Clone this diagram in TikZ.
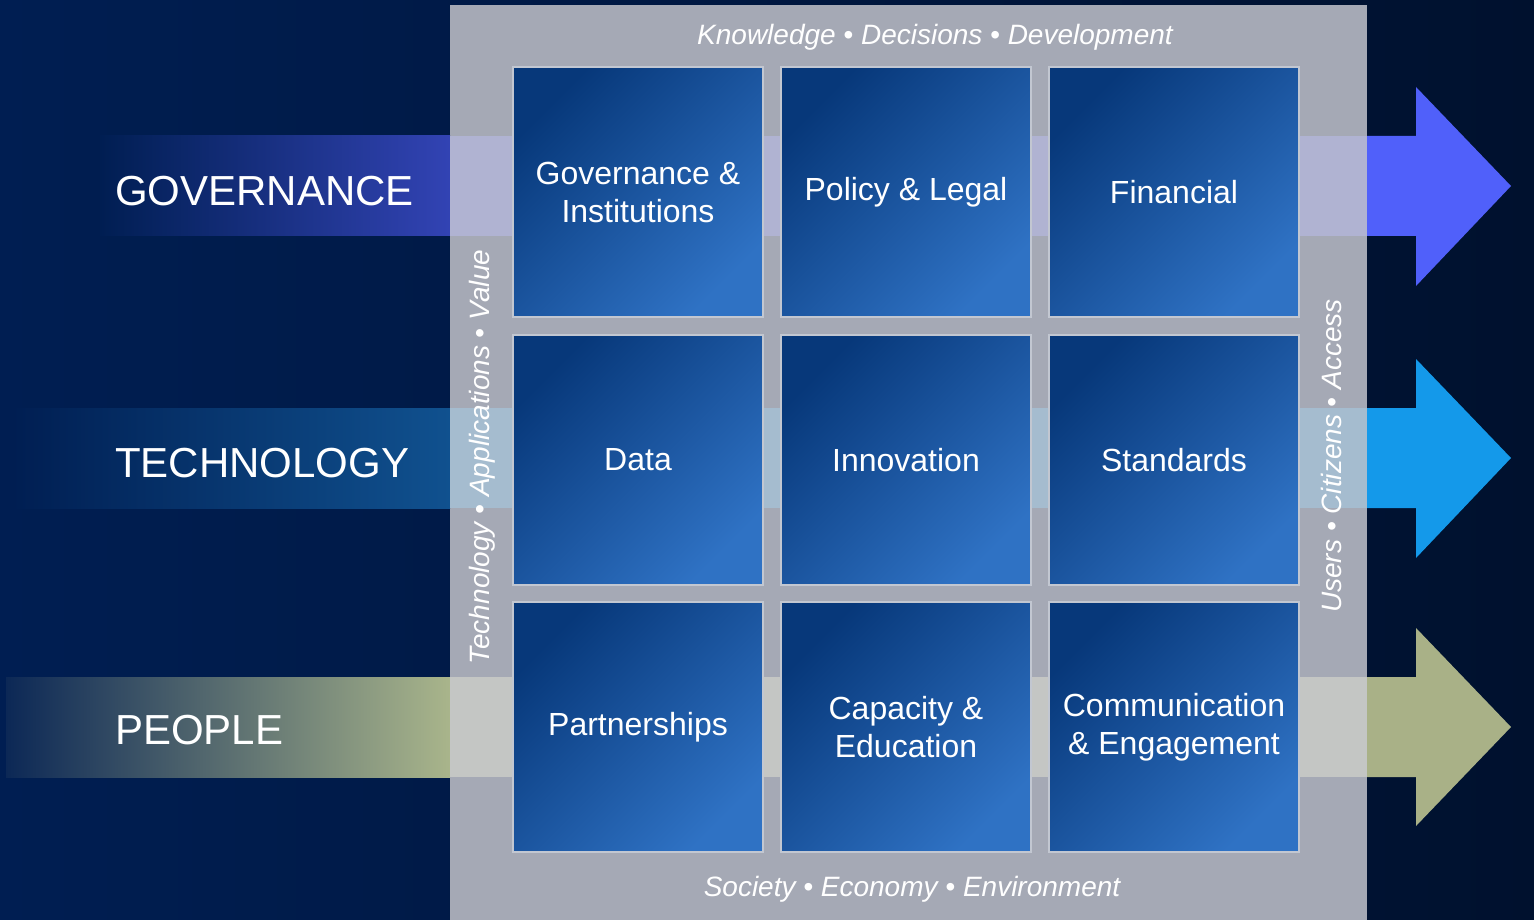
\documentclass[tikz,border=0pt]{standalone}
\usepackage{fontspec}
\setmainfont{Liberation Sans}
\usetikzlibrary{positioning}

\definecolor{bgleft}{HTML}{001E52}
\definecolor{bgright}{HTML}{00112E}
\definecolor{panel}{HTML}{A5A9B5}
\definecolor{boxdark}{HTML}{07387A}
\definecolor{boxlight}{HTML}{2F72C4}
\definecolor{boxline}{HTML}{C2C7D1}
\definecolor{govband}{HTML}{3243B4}
\definecolor{govlight}{HTML}{B0B3D2}
\definecolor{govarrow}{HTML}{5060FA}
\definecolor{techband}{HTML}{10518F}
\definecolor{techlight}{HTML}{A5BCCF}
\definecolor{techarrow}{HTML}{1499EA}
\definecolor{peopleleft}{HTML}{0C2856}
\definecolor{peopleband}{HTML}{A9B58B}
\definecolor{peoplelight}{HTML}{C4C6C4}
\definecolor{peoplearrow}{HTML}{A9B187}

\tikzset{
  pillar/.style={draw=boxline, line width=1.5pt, top color=boxdark, bottom color=boxlight,
    shading angle=45, minimum width=250pt, minimum height=250pt, inner sep=0pt,
    text=white, align=center, font=\fontsize{32}{38}\selectfont},
  rowlabel/.style={anchor=west, inner sep=0pt, text=white, font=\fontsize{42}{50}\selectfont},
  theme/.style={text=white, inner sep=0pt, font=\fontsize{28}{34}\selectfont\itshape},
}

\begin{document}
\begin{tikzpicture}[x=1pt, y=-1pt]

\useasboundingbox (0,0) rectangle (1534,920);
\fill[left color=bgleft, right color=bgright] (0,0) rectangle (1534,920);

% grey frame
\fill[panel] (450,5) rectangle (1367,920);

\def\shaft{1416}
\def\tip{1511}

% bands, left part and across the frame
\fill[left color=bgleft, right color=govband] (100,136) rectangle (450,236);
\fill[govlight] (450,136) rectangle (1367,236);
\fill[govarrow] (1367,136) -- (\shaft,136) -- (\shaft,87) -- (\tip,186)
    -- (\shaft,286) -- (\shaft,236) -- (1367,236) -- cycle;

\fill[left color=bgleft, right color=techband] (12,408) rectangle (450,508);
\fill[techlight] (450,408) rectangle (1367,508);
\fill[techarrow] (1367,408) -- (\shaft,408) -- (\shaft,359) -- (\tip,458)
    -- (\shaft,558) -- (\shaft,508) -- (1367,508) -- cycle;

\fill[left color=peopleleft, right color=peopleband] (6,677) rectangle (450,777);
\fill[peoplelight] (450,677) rectangle (1367,777);
\fill[peoplearrow] (1367,677) -- (\shaft,677) -- (\shaft,628) -- (\tip,727)
    -- (\shaft,826) -- (\shaft,777) -- (1367,777) -- cycle;

\node[rowlabel] (governance) at (115,191) {GOVERNANCE};
\node[rowlabel] (technology) at (115,463) {TECHNOLOGY};
\node[rowlabel] (people) at (115,730) {PEOPLE};

% the nine pillars
\node[pillar] (institutions) at (638,192) {Governance \&\\Institutions};
\node[pillar] (policy) at (906,192) {\raisebox{-3pt}{Policy \& Legal}};
\node[pillar] (financial) at (1174,192) {Financial};

\node[pillar] (data) at (638,460) {Data};
\node[pillar] (innovation) at (906,460) {Innovation};
\node[pillar] (standards) at (1174,460) {Standards};

\node[pillar] (partnerships) at (638,727) {\raisebox{-3pt}{Partnerships}};
\node[pillar] (capacity) at (906,727) {Capacity \&\\Education};
\node[pillar] (communication) at (1174,727) {Communication\\\& Engagement};

% themes round the frame
\node[theme] (top) at (935,37) {Knowledge • Decisions • Development};
\node[theme] (bottom) at (912,889) {Society • Economy • Environment};
\node[theme, rotate=90] (leftside) at (482,457) {Technology • Applications • Value};
\node[theme, rotate=90] (rightside) at (1331,456) {Users • Citizens • Access};

\end{tikzpicture}
\end{document}
